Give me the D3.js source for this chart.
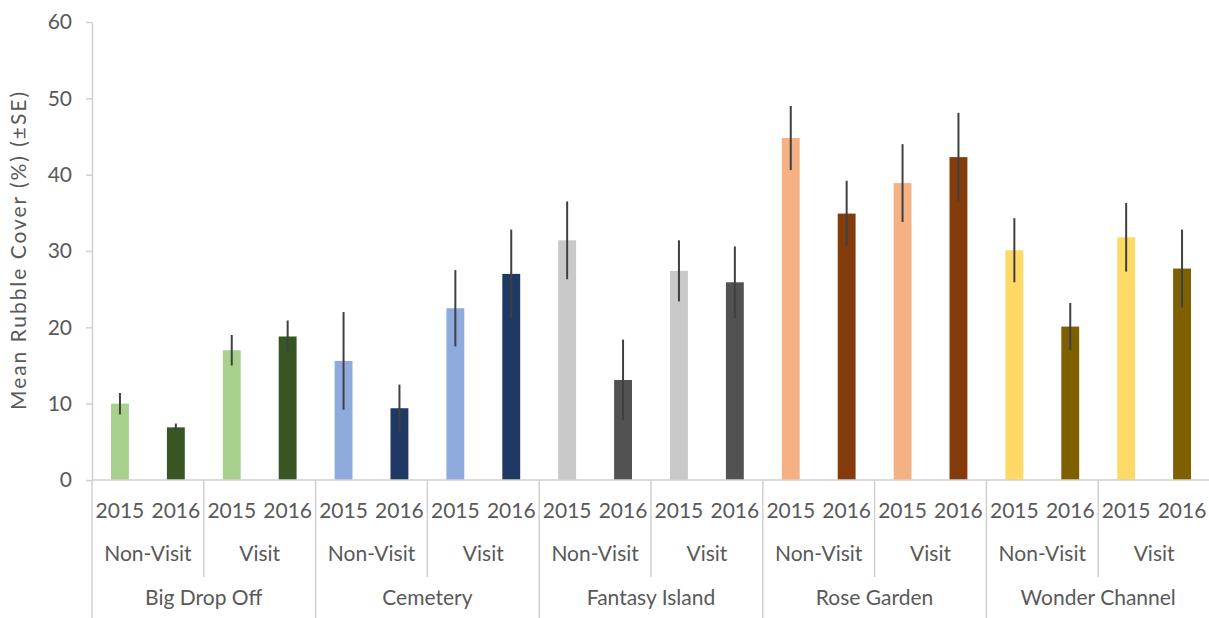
<!DOCTYPE html>
<html>
<head>
<meta charset="utf-8">
<script src="https://cdn.jsdelivr.net/npm/d3@7"></script>
<style>
  html, body { margin: 0; padding: 0; background: #fff; }
  svg { display: block; }
  text { font-family: Lato, "Open Sans", sans-serif; fill: #595959; }
</style>
</head>
<body>
<svg id="chart" width="1209" height="618"></svg>
<script>
// Sites, visit types and survey years (multi-level category axis)
const sites = ["Big Drop Off", "Cemetery", "Fantasy Island", "Rose Garden", "Wonder Channel"];
const visitTypes = ["Non-Visit", "Visit"];
const years = ["2015", "2016"];

// Mean rubble cover (%) ordered site -> visit type -> year
const meanCover = [
  10.0, 6.9, 17.0, 18.8,
  15.6, 9.4, 22.5, 27.0,
  31.4, 13.1, 27.4, 25.9,
  44.8, 34.9, 38.9, 42.3,
  30.1, 20.1, 31.8, 27.7
];
// Standard error for each bar, same order
const stdErr = [
  1.4, 0.5, 2.0, 2.1,
  6.4, 3.1, 5.0, 5.8,
  5.1, 5.3, 4.0, 4.7,
  4.2, 4.3, 5.1, 5.8,
  4.2, 3.1, 4.5, 5.1
];

// Fill colours per site: light for 2015, dark for 2016
const lightColors = ["#a9d18e", "#8faadc", "#c9c9c9", "#f4b183", "#ffd966"];
const darkColors  = ["#375623", "#203864", "#525252", "#843c0c", "#7f6000"];

const yTicks = [0, 10, 20, 30, 40, 50, 60];

const rows = [];
sites.forEach((s, si) => visitTypes.forEach((v, vi) => years.forEach((yr, yi) => {
  const i = rows.length;
  rows.push({ i, site: s, si, visit: v, vi, year: yr, yi, mean: meanCover[i], se: stdErr[i] });
})));

const svg = d3.select("#chart");
const plotLeft = 92, plotRight = 1210, plotTop = 22, plotBottom = 480;
const fontSize = 21;

const x = d3.scaleBand()
  .domain(rows.map(d => d.i))
  .range([plotLeft, plotRight])
  .paddingInner(0.68)
  .paddingOuter(0.34);
const step = x.step();

const y = d3.scaleLinear().domain([0, 60]).range([plotBottom, plotTop]);

const axisColor = "#d0d0d0";

// Y axis with left ticks
const yAxis = svg.append("g")
  .attr("transform", `translate(${plotLeft},0)`)
  .call(d3.axisLeft(y).tickValues(yTicks).tickSize(6).tickPadding(14).tickSizeOuter(0));
yAxis.select(".domain").attr("stroke", axisColor).attr("stroke-width", 1.5);
yAxis.selectAll(".tick line").attr("stroke", axisColor).attr("stroke-width", 1.5);
yAxis.selectAll(".tick text").attr("font-size", fontSize).style("fill", "#595959")
  .attr("font-family", "Lato, 'Open Sans', sans-serif");

// Y axis title
svg.append("text")
  .attr("transform", `translate(21,${y(30)}) rotate(-90)`)
  .attr("text-anchor", "middle")
  .attr("dominant-baseline", "middle")
  .attr("font-size", fontSize)
  .attr("textLength", 318)
  .attr("lengthAdjust", "spacing")
  .text("Mean Rubble Cover (%) (\u00B1SE)");

// Bars
svg.append("g").selectAll("rect")
  .data(rows)
  .join("rect")
  .attr("x", d => x(d.i))
  .attr("width", x.bandwidth())
  .attr("y", d => y(d.mean))
  .attr("height", d => y(0) - y(d.mean))
  .attr("fill", d => d.yi === 0 ? lightColors[d.si] : darkColors[d.si]);

// Error bars (no caps)
svg.append("g").selectAll("line")
  .data(rows)
  .join("line")
  .attr("x1", d => x(d.i) + x.bandwidth() / 2)
  .attr("x2", d => x(d.i) + x.bandwidth() / 2)
  .attr("y1", d => y(d.mean + d.se))
  .attr("y2", d => y(d.mean - d.se))
  .attr("stroke", "#404040")
  .attr("stroke-width", 2);

// Category axis baseline
svg.append("line")
  .attr("x1", plotLeft).attr("x2", plotRight)
  .attr("y1", plotBottom).attr("y2", plotBottom)
  .attr("stroke", axisColor).attr("stroke-width", 1.5);

const slotLeft = i => x(i) - x.paddingOuter() * step;
const rowYear = 513, rowVisit = 556, rowSite = 600;

// Year labels
svg.append("g").selectAll("text")
  .data(rows)
  .join("text")
  .attr("x", d => x(d.i) + x.bandwidth() / 2)
  .attr("y", rowYear)
  .attr("text-anchor", "middle")
  .attr("dominant-baseline", "middle")
  .attr("font-size", fontSize)
  .text(d => d.year);

// Visit-type labels and separators
const visitGroups = d3.groups(rows, d => d.si, d => d.vi).flatMap(([si, g]) =>
  g.map(([vi, items]) => ({ si, vi, first: items[0].i, last: items[items.length - 1].i, label: visitTypes[vi] })));
svg.append("g").selectAll("text")
  .data(visitGroups)
  .join("text")
  .attr("x", d => (slotLeft(d.first) + slotLeft(d.last) + step) / 2)
  .attr("y", rowVisit)
  .attr("text-anchor", "middle")
  .attr("dominant-baseline", "middle")
  .attr("font-size", fontSize)
  .text(d => d.label);
svg.append("g").selectAll("line")
  .data(visitGroups.filter(d => d.vi > 0))
  .join("line")
  .attr("x1", d => slotLeft(d.first)).attr("x2", d => slotLeft(d.first))
  .attr("y1", plotBottom).attr("y2", 577)
  .attr("stroke", axisColor).attr("stroke-width", 1.5);

// Site labels and separators
const siteGroups = d3.groups(rows, d => d.si).map(([si, items]) =>
  ({ si, first: items[0].i, last: items[items.length - 1].i, label: sites[si] }));
svg.append("g").selectAll("text")
  .data(siteGroups)
  .join("text")
  .attr("x", d => (slotLeft(d.first) + slotLeft(d.last) + step) / 2)
  .attr("y", rowSite)
  .attr("text-anchor", "middle")
  .attr("dominant-baseline", "middle")
  .attr("font-size", fontSize)
  .text(d => d.label);
svg.append("g").selectAll("line")
  .data(siteGroups)
  .join("line")
  .attr("x1", d => slotLeft(d.first)).attr("x2", d => slotLeft(d.first))
  .attr("y1", plotBottom).attr("y2", 618)
  .attr("stroke", axisColor).attr("stroke-width", 1.5);
</script>
</body>
</html>
